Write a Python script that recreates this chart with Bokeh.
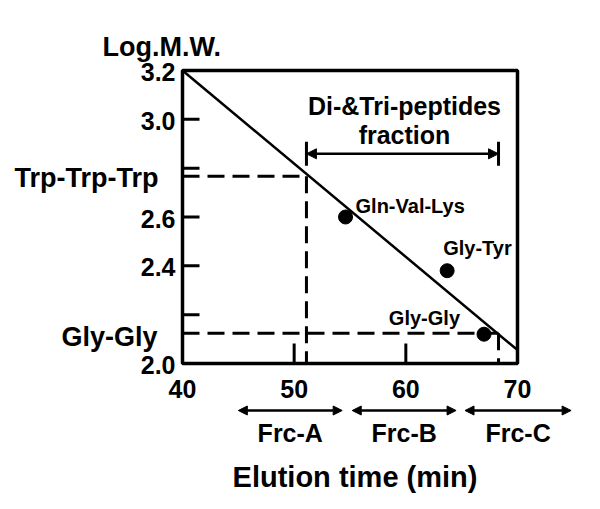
from bokeh.plotting import figure
from bokeh.models import Range1d, Label, Arrow, NormalHead
from bokeh.core.properties import value
from bokeh.embed import file_html
from bokeh.resources import INLINE

# ---- data ----
fit_time = [40, 70]
fit_logmw = [3.2, 2.055]

std_names = ["Gln-Val-Lys", "Gly-Tyr", "Gly-Gly"]
std_time = [54.6, 63.7, 67.0]
std_logmw = [2.60, 2.38, 2.12]

ref_names = ["Trp-Trp-Trp", "Gly-Gly"]
ref_time = [51.1, 68.3]
ref_logmw = [2.767, 2.124]

frac_names = ["Frc-A", "Frc-B", "Frc-C"]
frac_start = [45.0, 55.2, 65.3]
frac_end = [54.3, 64.5, 74.8]

x_ticks = [40, 50, 60, 70]
x_tick_labels = ["40", "50", "60", "70"]
y_ticks = [2.0, 2.2, 2.4, 2.6, 2.8, 3.0, 3.2]
y_tick_labels = ["2.0", "", "2.4", "2.6", "", "3.0", "3.2"]

XMIN, XMAX = 40, 70
YMIN, YMAX = 2.0, 3.2

# ---- layout (pixels) ----
W, H = 584, 493
BOX_L, BOX_R, BOX_T, BOX_B = 182, 517, 70, 363
FONT = "Liberation Sans"
px_x = (BOX_R - BOX_L) / (XMAX - XMIN)   # pixels per minute
px_y = (BOX_B - BOX_T) / (YMAX - YMIN)   # pixels per log unit

p = figure(width=W, height=H,
           x_range=Range1d(XMIN - BOX_L / px_x, XMIN + (W - BOX_L) / px_x),
           y_range=Range1d(YMIN - (H - BOX_B) / px_y, YMAX + BOX_T / px_y),
           output_backend="svg", toolbar_location=None,
           x_axis_location=None, y_axis_location=None, min_border=0)
p.grid.visible = False
p.outline_line_color = None
p.background_fill_color = "white"
p.border_fill_color = "white"

# ---- plot box ----
p.quad(left=[XMIN], right=[XMAX], bottom=[YMIN], top=[YMAX],
       fill_color=None, line_color="black", line_width=3.5)

# inward ticks
p.segment(x0=[XMIN] * len(y_ticks), y0=y_ticks,
          x1=[XMIN + 17 / px_x] * len(y_ticks), y1=y_ticks,
          line_color="black", line_width=3)
p.segment(x0=x_ticks, y0=[YMIN] * len(x_ticks),
          x1=x_ticks, y1=[YMIN + 20 / px_y] * len(x_ticks),
          line_color="black", line_width=3)

# tick labels
tick_kw = dict(text_font=value(FONT), text_font_style="bold",
               text_font_size="25px", text_color="black")
p.text(x=[XMIN] * len(y_ticks), y=y_ticks, text=y_tick_labels,
       x_offset=-7, y_offset=1.5, text_align="right", text_baseline="middle",
       **tick_kw)
p.text(x=x_ticks, y=[YMIN] * len(x_ticks), text=x_tick_labels,
       y_offset=25, text_align="center", text_baseline="middle",
       **tick_kw)

lbl_kw = dict(text_font=FONT, text_font_style="bold", text_color="black")

# axis titles
p.add_layout(Label(x=XMIN, y=YMAX, text="Log.M.W.", x_offset=-80, y_offset=23.5,
                   text_align="left", text_baseline="alphabetic",
                   text_font_size="27px", **lbl_kw))
p.add_layout(Label(x=(XMIN + XMAX) / 2, y=YMIN, text="Elution time (min)",
                   x_offset=5, y_offset=-113, text_align="center",
                   text_baseline="middle", text_font_size="29px", **lbl_kw))

# ---- dashed reference lines ----
for t, m in zip(ref_time, ref_logmw):
    p.line([XMIN, t], [m, m], line_color="black", line_width=3, line_dash="17 8")
    p.line([t, t], [m, YMIN], line_color="black", line_width=3, line_dash="17 8")

# reference names at left
ref_offsets = [(-24, -2), (-25, -4)]
for name, m, (dx, dy) in zip(ref_names, ref_logmw, ref_offsets):
    p.add_layout(Label(x=XMIN, y=m, text=name, x_offset=dx, y_offset=dy,
                       text_align="right", text_baseline="middle",
                       text_font_size="27px", **lbl_kw))

# ---- calibration line and standards ----
p.line(fit_time, fit_logmw, line_color="black", line_width=2.5)
p.scatter(std_time, std_logmw, size=14, color="black")

offsets = [(10, 11, "left"), (-4, 23, "left"), (-24, 16, "right")]
for name, t, m, (dx, dy, al) in zip(std_names, std_time, std_logmw, offsets):
    p.add_layout(Label(x=t, y=m, text=name, x_offset=dx, y_offset=dy,
                       text_align=al, text_baseline="middle",
                       text_font_size="20px", **lbl_kw))

# ---- Di- & Tri-peptides fraction bracket ----
bracket_y = YMAX - 83.3 / px_y
p.add_layout(Arrow(x_start=ref_time[0], x_end=ref_time[1], y_start=bracket_y, y_end=bracket_y,
                   line_width=2.5, line_color="black",
                   start=NormalHead(size=10, fill_color="black", line_color="black"),
                   end=NormalHead(size=10, fill_color="black", line_color="black")))
p.scatter(ref_time, [bracket_y] * len(ref_time), marker="dash", angle=1.5708,
          size=24, line_color="black", line_width=3)
mid = (ref_time[0] + ref_time[1]) / 2
p.add_layout(Label(x=mid, y=bracket_y, text="Di-&Tri-peptides", x_offset=2, y_offset=48,
                   text_align="center", text_baseline="middle",
                   text_font_size="25px", **lbl_kw))
p.add_layout(Label(x=mid, y=bracket_y, text="fraction", x_offset=2, y_offset=19,
                   text_align="center", text_baseline="middle",
                   text_font_size="25px", **lbl_kw))

# ---- fraction arrows below the axis ----
arrow_y = YMIN - 47 / px_y
for name, s, e in zip(frac_names, frac_start, frac_end):
    p.add_layout(Arrow(x_start=s, x_end=e, y_start=arrow_y, y_end=arrow_y,
                       line_width=2.5, line_color="black",
                       start=NormalHead(size=9, fill_color="black", line_color="black"),
                       end=NormalHead(size=9, fill_color="black", line_color="black")))
    p.add_layout(Label(x=(s + e) / 2, y=YMIN, text=name, y_offset=-69,
                       text_align="center", text_baseline="middle",
                       text_font_size="25px", **lbl_kw))

open("out.html", "w").write(file_html(p, INLINE))
